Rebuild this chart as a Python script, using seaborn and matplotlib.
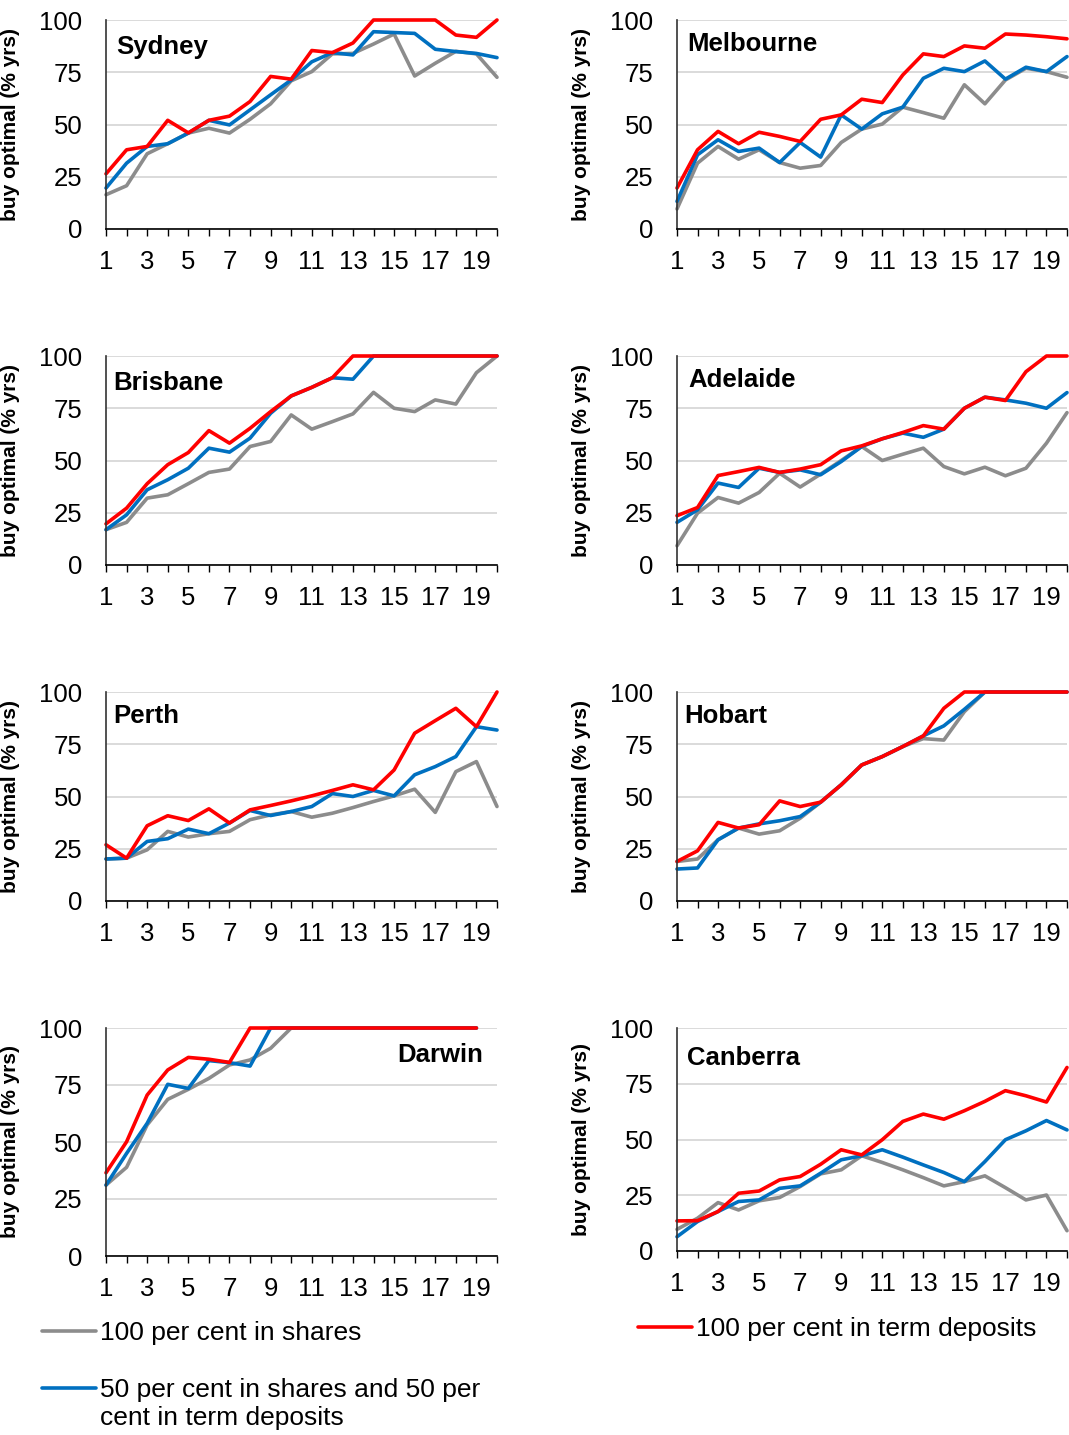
import pandas as pd
import matplotlib.pyplot as plt
import seaborn as sns
from matplotlib.lines import Line2D

# ──────────────────────────────
# Data
# ──────────────────────────────
YEARS = list(range(1, 21))
STRATEGIES = [
    "100 per cent in shares",
    "50 per cent in shares and 50 per cent in term deposits",
    "100 per cent in term deposits",
]

sydney_shares = [16.4, 20.7, 36, 40.8, 45.9, 48.2, 45.9, 52.5, 59.9, 70.9, 75.3, 83.8, 84, 88.5, 93.3, 73.2, 79.3, 85, 83.8, 72.6]
sydney_mixed = [19.6, 31.5, 39.5, 40.8, 45.9, 52, 49.8, 57, 64.2, 71.3, 80, 84.4, 83.3, 94.4, 94, 93.6, 86, 84.9, 84, 82]
sydney_term = [26.4, 37.9, 39.5, 52, 46, 52, 54, 61, 73, 71.7, 85.4, 84.4, 89, 100, 100, 100, 100, 92.8, 91.7, 100]

melbourne_shares = [9.6, 31.5, 39.5, 33.4, 37.9, 31.8, 29.1, 30.4, 41.4, 47.8, 50.2, 58.3, 55.7, 53, 69, 59.9, 71.3, 76.9, 75.3, 72.6]
melbourne_mixed = [13.2, 35.5, 42.7, 37.1, 38.7, 31.8, 41.4, 34.4, 54.6, 47.8, 55.1, 58.3, 72.1, 76.9, 75.3, 80.4, 71.7, 77.4, 75.3, 82.5]
melbourne_term = [19.6, 37.9, 46.7, 40.8, 46.3, 44.3, 41.9, 52.5, 54.6, 62.1, 60.5, 73.7, 83.8, 82.5, 87.6, 86.5, 93.3, 92.8, 92, 91]

brisbane_shares = [16.9, 20.4, 32, 33.6, 38.9, 44.3, 45.9, 56.7, 59.1, 71.8, 65, 68.6, 72.3, 82.6, 75, 73.4, 79, 77, 92, 100]
brisbane_mixed = [16.9, 24, 36, 40.8, 46.3, 55.9, 54, 60.7, 72.6, 80.9, 85, 89.6, 88.9, 100, 100, 100, 100, 100, 100, 100]
brisbane_term = [19.7, 27.2, 38.9, 48, 53.8, 64.3, 58.3, 65.4, 73.4, 80.9, 85, 89.6, 100, 100, 100, 100, 100, 100, 100, 100]

adelaide_shares = [9.2, 24.8, 32.3, 29.6, 34.7, 43.9, 37.3, 43.5, 50, 56.7, 50, 53, 55.9, 47.1, 43.6, 46.8, 42.7, 46.3, 58.3, 72.9]
adelaide_mixed = [20.4, 26.4, 39.2, 37.1, 46.3, 44.3, 45.5, 43.2, 49.5, 56.7, 60.4, 63.1, 61.1, 65, 75, 80.3, 79, 77.4, 75, 82.5]
adelaide_term = [23.6, 27.5, 42.8, 44.7, 46.7, 44.3, 45.9, 48, 54.6, 57, 60.4, 63.4, 66.7, 65, 75, 80.3, 78.7, 92.5, 100, 100]

perth_shares = [20.1, 20.5, 24.5, 33.3, 30.6, 32.2, 33.3, 38.9, 41.2, 42.8, 40.1, 42, 44.7, 47.6, 50.3, 53.5, 42.4, 61.9, 66.7, 45.2]
perth_mixed = [20.1, 20.5, 28.5, 29.8, 34.4, 32.2, 37.3, 43.3, 40.9, 42.8, 45.2, 51.4, 50, 52.9, 50.3, 60.4, 64.3, 69.1, 83.4, 81.8]
perth_term = [26.9, 20.5, 36, 40.8, 38.5, 44.1, 37.3, 43.6, 45.7, 47.9, 50.3, 52.9, 55.6, 53.2, 62.7, 80.3, 86.3, 92.2, 83.4, 100]

hobart_shares = [18.9, 20.1, 29.3, 34.9, 32, 33.6, 39.6, 47.3, 55.6, 65.1, 69.1, 73.9, 77.7, 77, 90.6, 100, 100, 100, 100, 100]
hobart_mixed = [15.3, 15.8, 29.3, 34.9, 36.9, 38.4, 40.4, 47.3, 55.6, 65.1, 69.1, 73.9, 79, 83.8, 91.7, 100, 100, 100, 100, 100]
hobart_term = [18.9, 24, 37.6, 34.9, 36.5, 47.9, 45.2, 47.3, 55.6, 65.1, 69.1, 73.9, 79, 92.2, 100, 100, 100, 100, 100, 100]

# Darwin series stop at year 19
darwin_shares = [31.1, 38.9, 57.5, 68.7, 73.1, 77.9, 83.8, 86, 91.1, 100, 100, 100, 100, 100, 100, 100, 100, 100, 100]
darwin_mixed = [31.1, 45, 58.2, 75.3, 73.5, 85.7, 84.8, 83.3, 100, 100, 100, 100, 100, 100, 100, 100, 100, 100, 100]
darwin_term = [36.5, 50.1, 70.6, 81.6, 87.1, 86.3, 84.9, 100, 100, 100, 100, 100, 100, 100, 100, 100, 100, 100, 100]

canberra_shares = [9.7, 14.7, 21.7, 18.4, 22.5, 24, 28.9, 34.6, 36.4, 42.7, 39.7, 36.4, 32.9, 29.2, 31.1, 33.7, 28.4, 22.9, 25.1, 9.1]
canberra_mixed = [6.4, 13.2, 17.7, 22.2, 22.9, 28.1, 29.2, 34.9, 40.9, 42.7, 45.4, 42.1, 38.6, 35.2, 31.1, 40.1, 49.9, 53.9, 58.5, 54.3]
canberra_term = [13.5, 13.6, 17.7, 25.9, 26.9, 31.9, 33.4, 38.9, 45.4, 43.1, 49.9, 58.1, 61.4, 59.1, 62.9, 67.1, 71.9, 69.6, 66.8, 82.3]

CITIES = {
    "Sydney": (sydney_shares, sydney_mixed, sydney_term),
    "Melbourne": (melbourne_shares, melbourne_mixed, melbourne_term),
    "Brisbane": (brisbane_shares, brisbane_mixed, brisbane_term),
    "Adelaide": (adelaide_shares, adelaide_mixed, adelaide_term),
    "Perth": (perth_shares, perth_mixed, perth_term),
    "Hobart": (hobart_shares, hobart_mixed, hobart_term),
    "Darwin": (darwin_shares, darwin_mixed, darwin_term),
    "Canberra": (canberra_shares, canberra_mixed, canberra_term),
}

rows = []
for city, series in CITIES.items():
    for strat, vals in zip(STRATEGIES, series):
        for yr, v in zip(YEARS, vals):
            rows.append({"city": city, "year": yr, "strategy": strat, "pct": v})
df = pd.DataFrame(rows)

PALETTE = dict(zip(STRATEGIES, ["#8c8c8c", "#0070c0", "#ff0000"]))

# ──────────────────────────────
# Layout (pixel boxes: left, top, right, bottom)
# ──────────────────────────────
W, H = 1069, 1435
BOXES = {
    "Sydney": (106, 20, 497, 229),
    "Melbourne": (677, 20, 1067, 229),
    "Brisbane": (106, 356, 497, 565),
    "Adelaide": (677, 356, 1067, 565),
    "Perth": (106, 692, 497, 901),
    "Hobart": (677, 692, 1067, 901),
    "Darwin": (106, 1028, 497, 1256),
    "Canberra": (677, 1028, 1067, 1251),
}
LABELS = {
    "Sydney": (116, 47, "left"),
    "Melbourne": (687, 44, "left"),
    "Brisbane": (113, 383, "left"),
    "Adelaide": (688, 380, "left"),
    "Perth": (113, 716, "left"),
    "Hobart": (684, 716, "left"),
    "Darwin": (483, 1055, "right"),
    "Canberra": (687, 1058, "left"),
}

sns.set_theme(style="white")
plt.rcParams["font.family"] = ["Liberation Sans", "DejaVu Sans"]
plt.rcParams.update({
    "text.color": "black",
    "axes.labelcolor": "black",
    "xtick.color": "black",
    "ytick.color": "black",
})

fig = plt.figure(figsize=(W / 100, H / 100), dpi=100)

for city in CITIES:
    l, t, r, b = BOXES[city]
    ax = fig.add_axes([l / W, 1 - b / H, (r - l) / W, (b - t) / H])
    sns.lineplot(
        data=df[df["city"] == city], x="year", y="pct", hue="strategy",
        hue_order=STRATEGIES, palette=PALETTE, linewidth=2.6,
        errorbar=None, legend=False, ax=ax,
    )
    for ln in ax.lines:
        ln.set_clip_on(False)
        ln.set_solid_joinstyle("round")

    ax.set_xlim(1, 20)
    ax.set_ylim(0, 100)
    ax.set_xticks(YEARS)
    ax.set_xticklabels([str(y) if y % 2 else "" for y in YEARS])
    ax.set_yticks([0, 25, 50, 75, 100])
    ax.tick_params(axis="x", direction="out", length=5, width=1,
                   labelsize=18.5, pad=10, bottom=True)
    ax.tick_params(axis="y", length=0, labelsize=18.5, pad=17)
    ax.grid(axis="y", color="#d4d4d4", linewidth=1.2)
    ax.set_axisbelow(True)
    for side in ["top", "right"]:
        ax.spines[side].set_visible(False)
    ax.spines["left"].set_color("#333333")
    ax.spines["bottom"].set_color("black")
    ax.spines["left"].set_linewidth(1.2)
    ax.spines["bottom"].set_linewidth(1.2)

    ax.set_xlabel("")
    ax.set_ylabel("buy optimal (% yrs)", fontsize=15, fontweight="bold")
    ax.yaxis.set_label_coords(-86 / (r - l), 0.5)

    x, y, ha = LABELS[city]
    fig.text(x / W, 1 - y / H, city, ha=ha, va="center",
             fontsize=18.5, fontweight="bold")

# ──────────────────────────────
# Legend
# ──────────────────────────────
def legend_entry(color, label, x, y):
    handle = Line2D([], [], color=color, linewidth=2.6)
    fig.legend(handles=[handle], labels=[label], loc="center left",
               bbox_to_anchor=(x / W, 1 - y / H), frameon=False,
               fontsize=19, handlelength=2.05, handletextpad=0.15,
               borderpad=0, borderaxespad=0)

legend_entry(PALETTE[STRATEGIES[0]], "100 per cent in shares", 42, 1333)
legend_entry(PALETTE[STRATEGIES[2]], "100 per cent in term deposits", 638, 1329)
legend_entry(PALETTE[STRATEGIES[1]], "50 per cent in shares and 50 per", 42, 1390)
fig.text(100 / W, 1 - 1418 / H, "cent in term deposits", ha="left", va="center",
         fontsize=19)

fig.savefig("out.png", dpi=100)
